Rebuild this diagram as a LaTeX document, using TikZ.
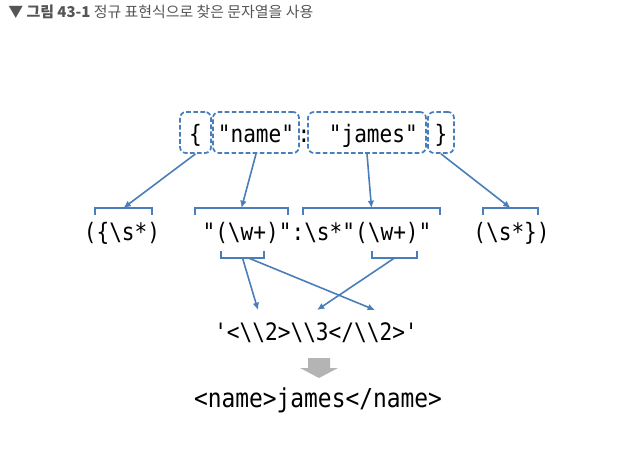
\documentclass[tikz,border=0pt]{standalone}
\usepackage{fontspec}
\setmonofont{DejaVu Sans Mono}[FakeStretch=0.88]
\newfontfamily\krfont{Noto Sans CJK KR}
\usepackage{tikz}
\usetikzlibrary{arrows.meta}

\definecolor{linkblue}{HTML}{4A7EBB}
\definecolor{capgray}{HTML}{555555}
\definecolor{arrowgray}{HTML}{B4B4B4}

\tikzset{
  code/.style={font=\ttfamily\fontsize{18}{21}\selectfont, inner sep=0pt, anchor=base},
  jsonbox/.style={code, draw=linkblue, line width=1.3pt, dash pattern=on 3.5pt off 1.8pt,
    rounded corners=4.5pt, inner sep=3pt, text height=19.5pt, text depth=5.25pt},
  link/.style={draw=linkblue, line width=1.2pt, -{Latex[length=5.5pt,width=5pt]}},
  brace/.style={draw=linkblue, line width=1.2pt}
}

\begin{document}
\begin{tikzpicture}[x=0.75pt,y=-0.75pt]
    \useasboundingbox (0,0) rectangle (625,472);
    % caption
    \node[anchor=west, inner sep=0pt, text=capgray, font=\krfont\fontsize{11.2}{13}\selectfont]
      (caption) at (8,12) {▼ \textbf{그림 43-1} 정규 표현식으로 찾은 문자열을 사용};

    % json source
    \node[jsonbox, minimum width=23.25pt] (lbrace) at (195.5,142) {\{};
    \node[jsonbox, minimum width=64.5pt] (key) at (256,142) {"name"};
    \node[code] (colon) at (304,142) {:};
    \node[jsonbox, minimum width=88.5pt] (value) at (367,142) {~"james"};
    \node[jsonbox, minimum width=19.5pt] (rbrace) at (441,142) {\}};

    % pattern
    \node[code] (openpat) at (122,240) {(\{\textbackslash s*)};
    \node[code] (pairpat) at (317,240) {"(\textbackslash w+)":\textbackslash s*"(\textbackslash w+)"};
    \node[code] (closepat) at (511.5,240) {(\textbackslash s*\})};

    \foreach \l/\r/\n in {95/152/openbr, 195/288/keybr, 303/440/valbr, 483/538/closebr}{
      \draw[brace] (\l,215) |- (\r,208) -- (\r,215);
      \coordinate (\n) at ({(\l+\r)/2},208);
    }
    \foreach \l/\r/\n in {221/264/namegrp, 372/417/jamesgrp}{
      \draw[brace] (\l,251) |- (\r,258) -- (\r,251);
      \coordinate (\n) at ({(\l+\r)/2},258);
    }

    % replacement
    \node[code] (repl) at (316,340)
      {'<\textbackslash\textbackslash 2>\textbackslash\textbackslash 3</\textbackslash\textbackslash 2>'};
    \coordinate (refa) at (258,310);
    \coordinate (refc) at (317,310);
    \coordinate (refb) at (375,310);

    \fill[arrowgray] (308,358) -- (330,358) -- (330,368) -- (338,368) -- (319,378)
      -- (300,368) -- (308,368) -- cycle;

    \node[code, font=\ttfamily\fontsize{19.5}{22}\selectfont] (result) at (318,407) {<name>james</name>};

    % links
    \draw[link] (lbrace.south) -- (openbr);
    \draw[link] (key.south) -- (keybr);
    \draw[link] (value.south) -- (valbr);
    \draw[link] (rbrace.south) -- (closebr);
    \draw[link] (namegrp) -- (refa);
    \draw[link] ([xshift=4.5pt]namegrp) -- (refb);
    \draw[link] (jamesgrp) -- (refc);
\end{tikzpicture}
\end{document}
